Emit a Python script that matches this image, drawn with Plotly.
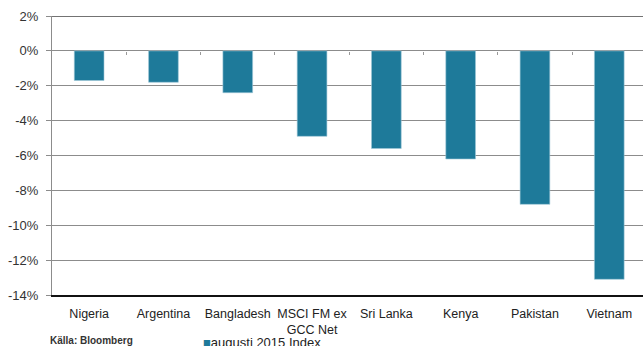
import plotly.graph_objects as go

categories = ["Nigeria", "Argentina", "Bangladesh", "MSCI FM ex<br>GCC Net", "Sri Lanka", "Kenya", "Pakistan", "Vietnam"]
values = [-1.7, -1.8, -2.4, -4.9, -5.6, -6.2, -8.8, -13.1]
y_ticks = [2, 0, -2, -4, -6, -8, -10, -12, -14]
y_tick_labels = ["2%", "0%", "-2%", "-4%", "-6%", "-8%", "-10%", "-12%", "-14%"]
series_name = "augusti 2015 Index"
source = "Källa: Bloomberg"

BAR = "#1e7a9a"
FONT = "Liberation Sans, Arial, sans-serif"

fig = go.Figure()
fig.add_trace(go.Bar(
    x=list(range(len(categories))), y=values, name=series_name,
    marker=dict(color=BAR, line=dict(color="#9fc8d6", width=0.6)),
    width=0.4, showlegend=False,
))

n = len(categories)
fig.update_layout(
    width=643, height=346,
    margin=dict(l=52, r=0, t=16, b=51),
    paper_bgcolor="white", plot_bgcolor="white",
    font=dict(family=FONT, size=13, color="#222"),
    bargap=0.6,
    xaxis=dict(
        range=[-0.5, n - 0.546], tickmode="array",
        tickvals=list(range(n)), ticktext=categories,
        showgrid=False, zeroline=False, ticks="",
        showline=True, linecolor="#111", linewidth=2, mirror=False,
        tickfont=dict(size=12.5, color="#222"),
        ticklabelstandoff=6,
    ),
    xaxis2=dict(
        overlaying="x", anchor="free", position=14 / 16, side="bottom",
        range=[-0.5, n - 0.546], tickmode="array",
        tickvals=[i + 0.5 for i in range(n - 1)],
        ticks="outside", ticklen=3, tickcolor="#999", tickwidth=1,
        showticklabels=False, showgrid=False, zeroline=False, showline=False,
    ),
    yaxis=dict(
        range=[-14, 2], tickmode="array", tickvals=y_ticks, ticktext=y_tick_labels,
        showgrid=True, gridcolor="#8c8c8c", gridwidth=1,
        zeroline=False, ticks="outside", ticklen=5, tickcolor="#8c8c8c",
        showline=True, linecolor="#8c8c8c", linewidth=1,
        tickfont=dict(size=13, color="#333"),
        ticklabelstandoff=5,
    ),
    shapes=[dict(type="line", xref="paper", yref="y", x0=0, x1=1, y0=2, y1=2,
                 line=dict(color="#444", width=1.5))],
    annotations=[
        dict(text="<b>" + source + "</b>", xref="paper", yref="paper",
             x=-0.007, y=-0.162, xanchor="left", yanchor="middle",
             showarrow=False, font=dict(size=10, color="#333")),
        dict(text="<span style='color:" + BAR + "'>■</span>" + series_name,
             xref="paper", yref="paper", x=0.252, y=-0.172,
             xanchor="left", yanchor="middle", showarrow=False,
             font=dict(size=13, color="#222")),
    ],
)
fig.add_trace(go.Scatter(x=[None], y=[None], xaxis="x2", showlegend=False, hoverinfo="skip"))

fig.write_html("out.html")
